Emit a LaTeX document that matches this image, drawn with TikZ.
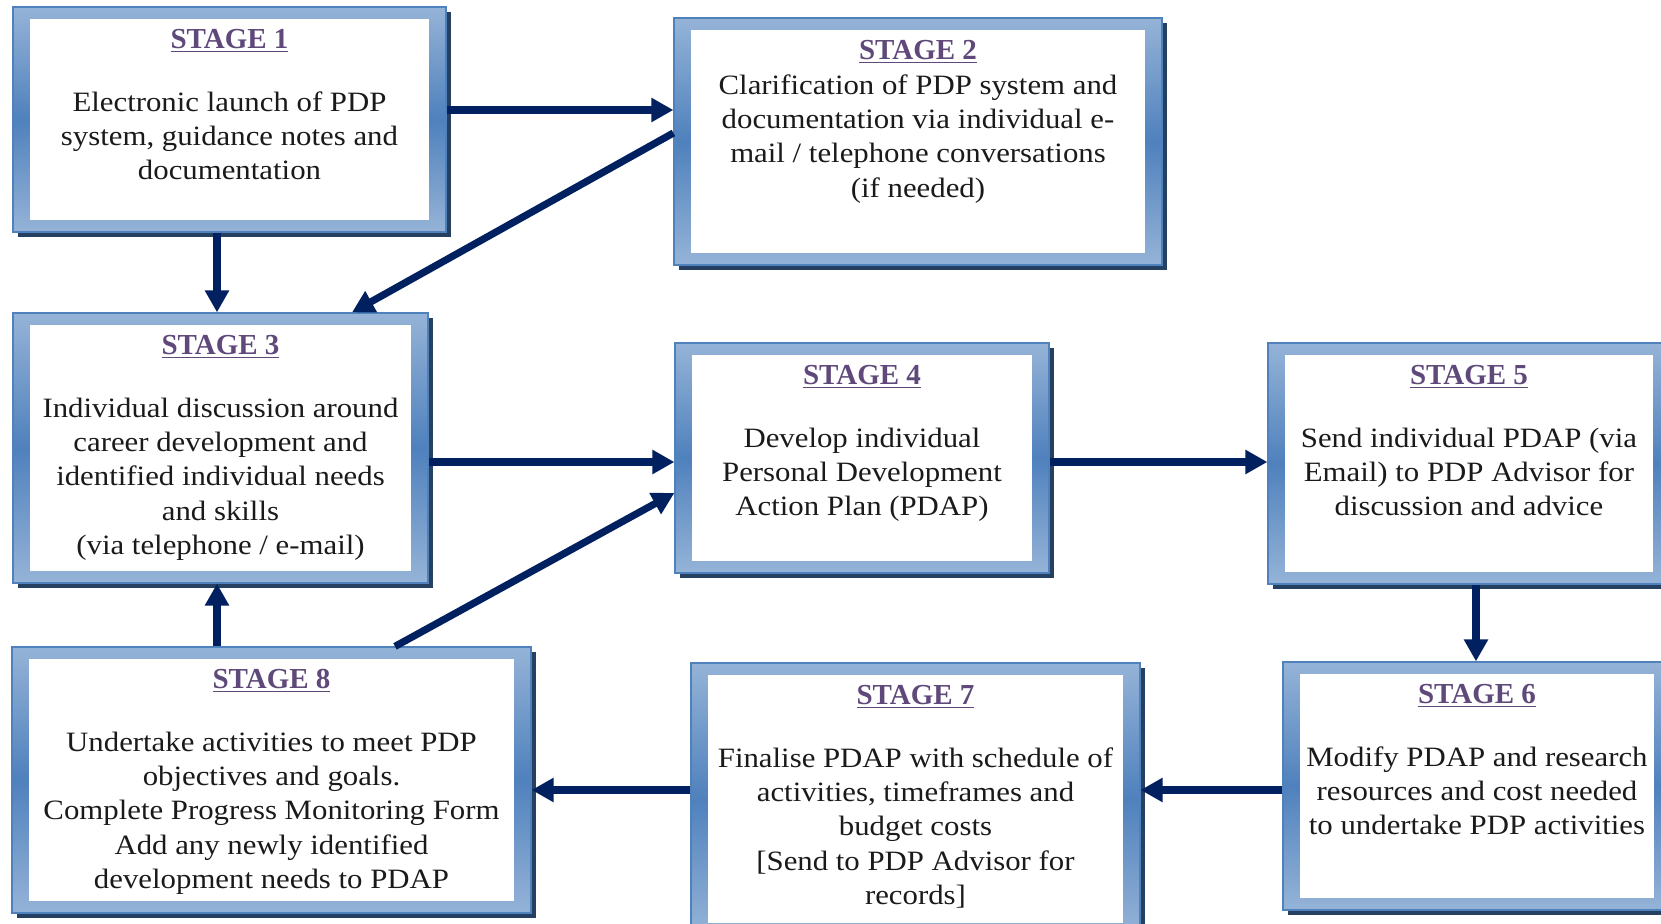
\documentclass[tikz,border=0pt]{standalone}
\usepackage{fontspec}
\setmainfont{Liberation Serif}[FakeStretch=1.1]
\newfontfamily\titlefont{Liberation Serif}
\usetikzlibrary{positioning, calc, arrows.meta, shadows}

\definecolor{frameLight}{HTML}{95B3D7}
\definecolor{frameDark}{HTML}{4F81BD}
\definecolor{shadowBlue}{HTML}{254061}
\definecolor{arrowNavy}{HTML}{002060}
\definecolor{titlePurple}{HTML}{5F497A}
\definecolor{bodyText}{HTML}{1A1A1A}

\newcommand{\stagetitle}[1]{{\titlefont\bfseries\fontsize{14.5}{17.2}\selectfont\color{titlePurple}\underline{#1}}}

\tikzset{
  stagebox/.style 2 args={
    minimum width=#1, minimum height=#2, inner sep=0pt,
    top color=frameLight, bottom color=frameLight, middle color=frameDark,
    draw=frameDark, line width=0.6pt,
    drop shadow={shadow xshift=2.5pt, shadow yshift=-2.5pt, fill=shadowBlue, opacity=1},
    path picture={\fill[white] ([xshift=8.5pt,yshift=-6pt]path picture bounding box.north west) rectangle ([xshift=-8.5pt,yshift=6pt]path picture bounding box.south east);},
    font=\fontsize{14}{17.2}\selectfont, text=bodyText,
    execute at begin node={\begin{minipage}[t][\dimexpr#2-16pt\relax][t]{\dimexpr#1-6pt\relax}\vspace*{3.25pt}\centering},
    execute at end node={\end{minipage}}
  },
  flow/.style={-{Triangle[length=11pt,width=11.5pt]}, line width=3.6pt, draw=arrowNavy}
}

\begin{document}
\begin{tikzpicture}[x=0.5pt, y=-0.5pt]
  \useasboundingbox (0,0) rectangle (1661,924);

  % stages
  \node (s1) [stagebox={216.5pt}{112.5pt}] at (229.5,119.5) {\stagetitle{STAGE 1}\\[14pt] Electronic launch of PDP\\ system, guidance notes and\\ documentation};
  \node (s2) [stagebox={244pt}{123.5pt}] at (918,141.5) {\stagetitle{STAGE 2}\\ Clarification of PDP system and\\ documentation via individual e-\\ mail / telephone conversations\\ (if needed)};
  \node (s3) [stagebox={207.5pt}{135pt}] at (220.5,448) {\stagetitle{STAGE 3}\\[14pt] Individual discussion around\\ career development and\\ identified individual needs\\ and skills\\ (via telephone / e-mail)};
  \node (s4) [stagebox={187pt}{115pt}] at (862,458) {\stagetitle{STAGE 4}\\[14pt] Develop individual\\ Personal Development\\ Action Plan (PDAP)};
  \node (s5) [stagebox={201pt}{120.5pt}] at (1469,463.5) {\stagetitle{STAGE 5}\\[14pt] Send individual PDAP (via\\ Email) to PDP Advisor for\\ discussion and advice};
  \node (s6) [stagebox={194pt}{124pt}] at (1477,786) {\stagetitle{STAGE 6}\\[14pt] Modify PDAP and research\\ resources and cost needed\\ to undertake PDP activities};
  \node (s7) [stagebox={224.5pt}{136pt}] at (915.5,799) {\stagetitle{STAGE 7}\\[14pt] Finalise PDAP with schedule of\\ activities, timeframes and\\ budget costs\\ {[Send to PDP Advisor for}\\ records]};
  \node (s8) [stagebox={259.5pt}{133pt}] at (271.5,780) {\stagetitle{STAGE 8}\\[14pt] Undertake activities to meet PDP\\ objectives and goals.\\ Complete Progress Monitoring Form\\ Add any newly identified\\ development needs to PDAP};

  % connectors
  \draw[flow] ([yshift=4.75pt]s1.east) -- ([yshift=4.75pt]s1.east -| s2.west);
  \draw[flow] ([xshift=-6.25pt]s1.south) -- ([xshift=-6.25pt]s1.south |- s3.north);
  \draw[flow] ([yshift=4.25pt]s2.west) -- ([xshift=65.75pt]s3.north);
  \draw[flow] ([yshift=-7pt]s3.east) -- ([yshift=-7pt]s3.east -| s4.west);
  \draw[flow] ([yshift=-2pt]s4.east) -- ([yshift=-2pt]s4.east -| s5.west);
  \draw[flow] ([xshift=3.5pt]s5.south) -- ([xshift=3.5pt]s5.south |- s6.north);
  \draw[flow] ([yshift=-2pt]s6.west) -- ([yshift=-2pt]s6.west -| s7.east);
  \draw[flow] ([yshift=4.5pt]s7.west) -- ([yshift=4.5pt]s7.west -| s8.east);
  \draw[flow] ([xshift=-27.25pt]s8.north) -- ([xshift=-27.25pt]s8.north |- s3.south);
  \draw[flow] ([xshift=61.75pt]s8.north) -- ([yshift=-17.5pt]s4.west);
\end{tikzpicture}
\end{document}
